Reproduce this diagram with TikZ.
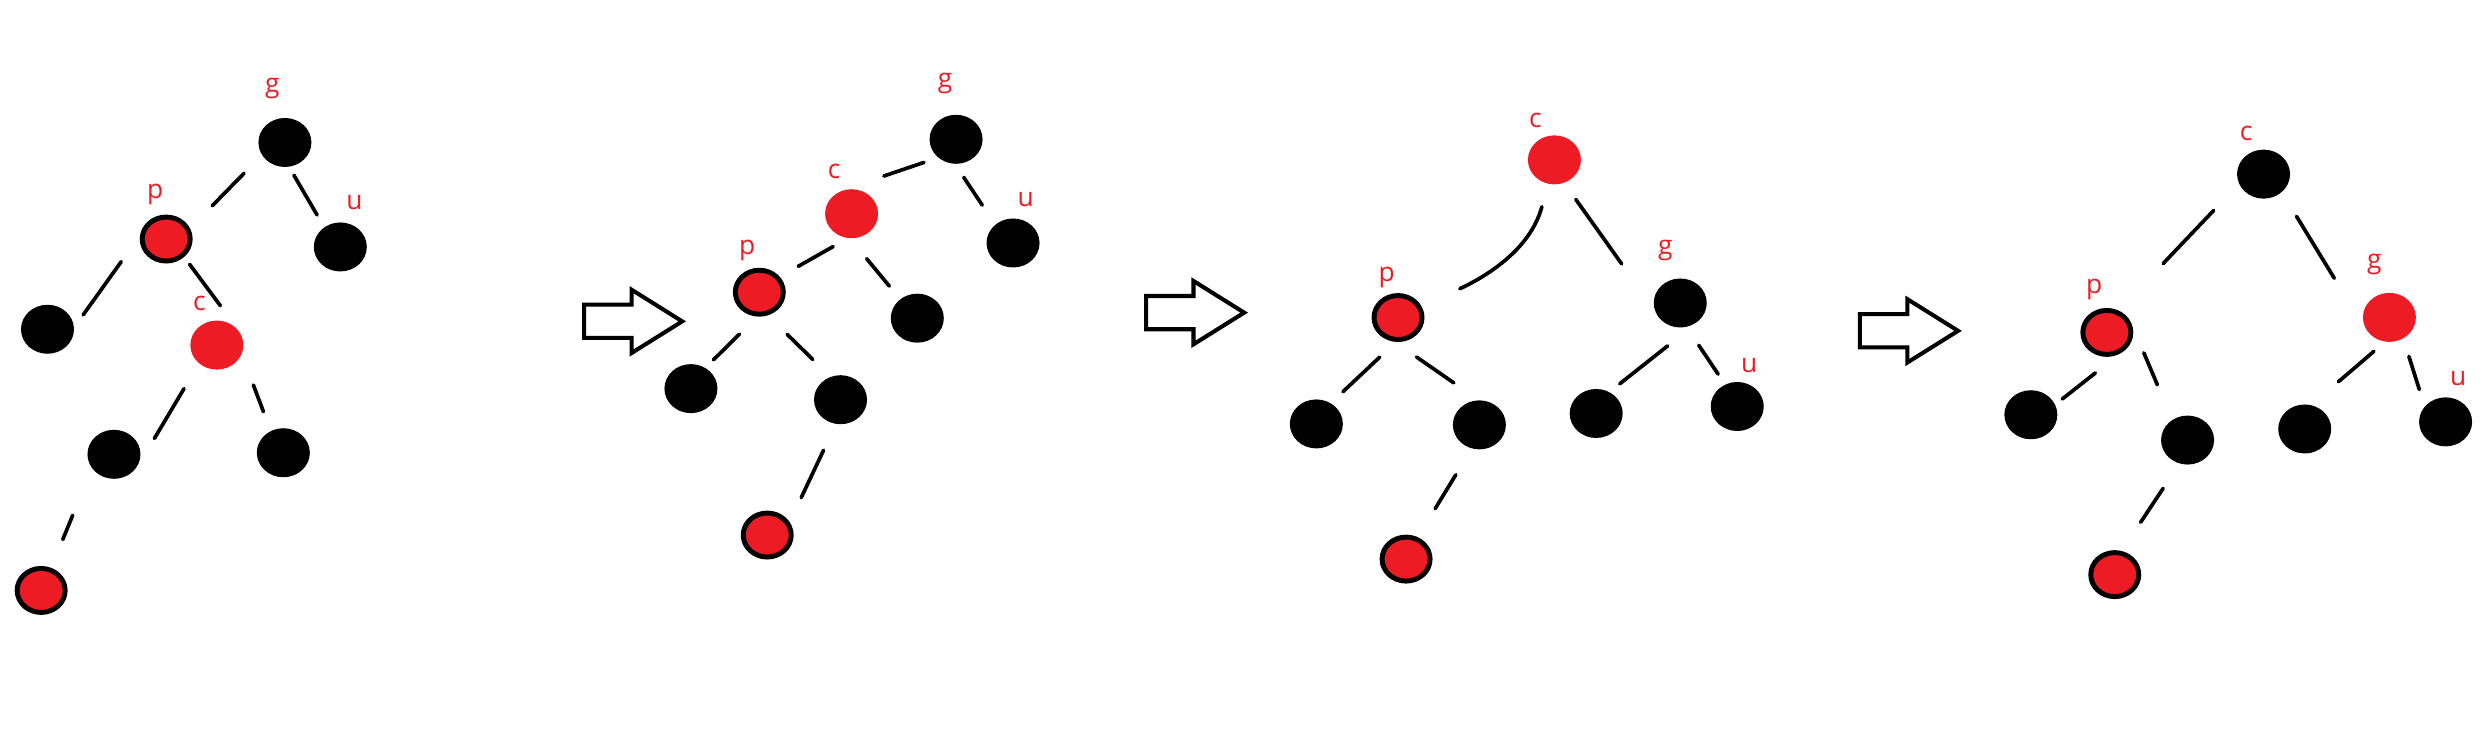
\documentclass[tikz,border=0pt]{standalone}
\usepackage{fontspec}
\setmainfont{Open Sans}
\usetikzlibrary{shapes.geometric}
\definecolor{paintred}{RGB}{237,28,36}
\begin{document}
\begin{tikzpicture}[
            x=0.158291mm,
            y=-0.158291mm,
            blk/.style={
                ellipse,
                fill=black,
                minimum width=5.3mm,
                minimum height=4.9mm,
                inner sep=0pt
            },
            redfill/.style={blk, fill=paintred},
            redring/.style={
                ellipse,
                draw=black,
                line width=1.4pt,
                fill=paintred,
                minimum width=4.8mm,
                minimum height=4.4mm,
                inner sep=0pt
            },
            lbl/.style={
                text=paintred,
                font=\fontsize{7.5}{9}\selectfont,
                inner sep=0pt
            },
            link/.style 2 args={
                line width=1.05pt,
                line cap=round,
                shorten <=#1,
                shorten >=#2
            },
            turn/.style={line width=1.15pt, line join=miter}
        ]
            \useasboundingbox (0,0) rectangle (1568,470.6);

            \node[blk] (g1) at (180,90) {};
            \node[redring] (p1) at (105,151) {};
            \node[blk] (u1) at (215,156) {};
            \node[blk] (l1) at (30,208) {};
            \node[redfill] (c1) at (137,218) {};
            \node[blk] (a1) at (72,287) {};
            \node[blk] (b1) at (179,286) {};
            \node[redring] (r1) at (26,373) {};

            \node[lbl] (tg1) at (172,56) {g};
            \node[lbl] (tp1) at (98,123) {p};
            \node[lbl] (tu1) at (224,128) {u};
            \node[lbl] (tc1) at (126,192) {c};

            \draw[link={7.1pt}{9pt}] (g1.209)--(p1.24);
            \draw[link={2.6pt}{3.9pt}] (g1.-80)--(u1.129);
            \draw[link={9.2pt}{4.2pt}] (p1.172)--(l1.5);
            \draw[link={2.6pt}{8.1pt}] (p1.-45)--(c1.39);
            \draw[link={8.2pt}{9pt}] (c1.226)--(a1.-25);
            \draw[link={9.2pt}{5.7pt}] (c1.-21)--(b1.120);
            \draw[link={14.3pt}{8.7pt}] (a1.213)--(r1.66);

            \node[blk] (g2) at (604,88) {};
            \node[redfill] (c2) at (538,135) {};
            \node[blk] (u2) at (640,153.5) {};
            \node[redring] (p2) at (479.7,184.6) {};
            \node[blk] (e2) at (579.5,201) {};
            \node[blk] (l2) at (436.5,245.5) {};
            \node[blk] (m2) at (531,252.5) {};
            \node[redring] (r2) at (484.7,338) {};

            \node[lbl] (tg2) at (597,53) {g};
            \node[lbl] (tc2) at (527,108) {c};
            \node[lbl] (tu2) at (648,126) {u};
            \node[lbl] (tp2) at (472,158) {p};

            \draw[link={4.1pt}{11.8pt}] (g2.225)--(c2.106);
            \draw[link={4.4pt}{6.5pt}] (g2.268)--(u2.134);
            \draw[link={4.6pt}{6pt}] (c2.260)--(p2.37);
            \draw[link={7.3pt}{4.7pt}] (c2.267)--(e2.132);
            \draw[link={7.1pt}{3.1pt}] (p2.265)--(l2.55);
            \draw[link={7.7pt}{6.9pt}] (p2.290)--(m2.114);
            \draw[link={8.1pt}{7.7pt}] (m2.259)--(r2.30);

            \node[redfill] (c3) at (982,101) {};
            \node[blk] (g3) at (1061.5,191.4) {};
            \node[redring] (p3) at (883.2,200.6) {};
            \node[blk] (a3) at (831.6,267.8) {};
            \node[blk] (b3) at (934.6,268.4) {};
            \node[blk] (d3) at (1008.4,261.2) {};
            \node[blk] (u3) at (1097.5,256.8) {};
            \node[redring] (r3) at (888.3,353.2) {};

            \node[lbl] (tc3) at (970,76) {c};
            \node[lbl] (tg3) at (1052,158) {g};
            \node[lbl] (tp3) at (876,175) {p};
            \node[lbl] (tu3) at (1105,231) {u};

            \draw[link={6.6pt}{12pt}] (c3) to[out=255, in=25] (p3);
            \draw[link={5.6pt}{15.8pt}] (c3.293)--(g3.193);
            \draw[link={6.3pt}{4.6pt}] (p3.265)--(a3.55);
            \draw[link={7.6pt}{8.4pt}] (p3.262)--(b3.93);
            \draw[link={10.1pt}{3.6pt}] (g3.306)--(d3.58);
            \draw[link={6.1pt}{3.4pt}] (g3.285)--(u3.119);
            \draw[link={8.6pt}{9.5pt}] (b3.252)--(r3.62);

            \node[blk] (c4) at (1430,110) {};
            \node[redring] (p4) at (1331,210) {};
            \node[redfill] (g4) at (1509.5,200.5) {};
            \node[blk] (a4) at (1283,262) {};
            \node[blk] (b4) at (1382,278) {};
            \node[blk] (d4) at (1456,271) {};
            \node[blk] (u4) at (1545,266.5) {};
            \node[redring] (r4) at (1336,363) {};

            \node[lbl] (tc4) at (1419,84) {c};
            \node[lbl] (tp4) at (1323,183) {p};
            \node[lbl] (tg4) at (1500,167) {g};
            \node[lbl] (tu4) at (1553,239) {u};

            \draw[link={10.3pt}{18.4pt}] (c4.202)--(p4.62);
            \draw[link={7.9pt}{17.1pt}] (c4.315)--(g4.207);
            \draw[link={8.8pt}{2.4pt}] (p4.301)--(a4.23);
            \draw[link={9.6pt}{10.7pt}] (p4.24)--(b4.127);
            \draw[link={4pt}{10pt}] (g4.259)--(d4.74);
            \draw[link={5.2pt}{4.9pt}] (g4.303)--(u4.143);
            \draw[link={8.3pt}{9.8pt}] (b4.251)--(r4.74);

            \foreach \x/\y in {369/203, 724/197.5, 1175/209}
                \draw[turn] (\x,\y-10.5) -- (\x+30,\y-10.5) -- (\x+30,\y-20)
                    -- (\x+62,\y) -- (\x+30,\y+20) -- (\x+30,\y+10.5)
                    -- (\x,\y+10.5) -- cycle;
        \end{tikzpicture}
\end{document}
